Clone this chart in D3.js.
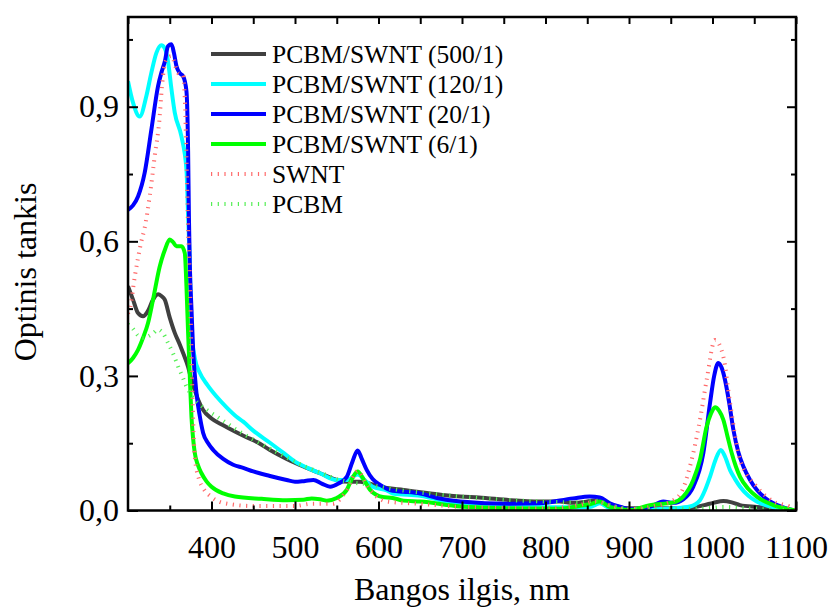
<!DOCTYPE html>
<html>
<head>
<meta charset="utf-8">
<script src="https://cdn.jsdelivr.net/npm/d3@7"></script>
<style>
  body { margin: 0; background: #fff; }
</style>
</head>
<body>
<div id="chart"></div>
<script>
// absorption spectra, [wavelength nm, optical density]
let pcbm_swnt_500 = [[300,0.50],[306,0.47],[312,0.44],[318,0.433],[324,0.445],[330,0.47],[336,0.482],[340,0.478],[344,0.47],[350,0.43],[356,0.396],[362,0.37],[366,0.351],[372,0.32],[376,0.291],[380,0.268],[384,0.247],[390,0.224],[400,0.205],[414,0.19],[428,0.176],[440,0.165],[455,0.152],[470,0.135],[490,0.115],[510,0.098],[530,0.083],[550,0.068],[565,0.064],[578,0.064],[595,0.057],[610,0.05],[630,0.046],[658,0.039],[680,0.034],[698,0.031],[720,0.029],[757,0.023],[793,0.02],[817,0.02],[833,0.017],[850,0.02],[860,0.023],[868,0.022],[880,0.012],[901,0.005],[930,0.005],[953,0.005],[973,0.006],[990,0.012],[1001,0.017],[1013,0.021],[1023,0.018],[1033,0.012],[1053,0.008],[1075,0.004],[1100,0.0]];

let pcbm_swnt_120 = [[300,0.957],[306,0.909],[314,0.878],[322,0.924],[328,0.976],[334,1.02],[340,1.037],[344,1.03],[348,1.0],[352,0.94],[356,0.887],[364,0.834],[370,0.76],[372,0.656],[374,0.55],[376,0.40],[380,0.34],[386,0.307],[395,0.28],[406,0.254],[418,0.23],[430,0.209],[438,0.198],[450,0.178],[470,0.151],[485,0.13],[500,0.109],[515,0.095],[530,0.083],[550,0.068],[562,0.068],[575,0.08],[585,0.065],[593,0.053],[610,0.045],[617,0.038],[650,0.033],[698,0.014],[757,0.01],[817,0.007],[853,0.008],[865,0.016],[877,0.005],[901,0.001],[953,0.005],[973,0.009],[985,0.023],[991,0.045],[997,0.075],[1004,0.115],[1010,0.135],[1015,0.12],[1021,0.09],[1027,0.07],[1033,0.053],[1043,0.033],[1053,0.02],[1073,0.007],[1093,0.001],[1100,0]];

let pcbm_swnt_20 = [[300,0.67],[306,0.68],[312,0.70],[320,0.753],[328,0.849],[336,0.946],[340,0.976],[344,1.0],[348,1.035],[352,1.039],[355,1.02],[358,0.991],[362,0.975],[366,0.968],[370,0.935],[372,0.80],[373,0.65],[374,0.55],[376,0.45],[378,0.358],[382,0.262],[386,0.21],[390,0.173],[396,0.15],[402,0.135],[414,0.115],[426,0.102],[438,0.095],[450,0.087],[470,0.077],[490,0.068],[500,0.064],[512,0.066],[522,0.068],[532,0.06],[542,0.053],[552,0.06],[562,0.075],[569,0.11],[575,0.134],[580,0.115],[586,0.09],[593,0.07],[602,0.057],[617,0.044],[630,0.042],[650,0.038],[670,0.028],[698,0.02],[757,0.015],[793,0.016],[833,0.027],[853,0.031],[865,0.029],[877,0.016],[890,0.008],[901,0.003],[925,0.008],[941,0.02],[953,0.017],[965,0.025],[977,0.053],[989,0.128],[997,0.239],[1002,0.3],[1007,0.329],[1011,0.318],[1015,0.291],[1020,0.24],[1025,0.18],[1031,0.13],[1037,0.098],[1045,0.068],[1053,0.046],[1063,0.028],[1073,0.016],[1085,0.007],[1096,0.001],[1100,0]];

let pcbm_swnt_6 = [[300,0.328],[306,0.34],[312,0.358],[318,0.385],[324,0.418],[330,0.47],[338,0.544],[344,0.58],[350,0.604],[354,0.598],[358,0.589],[364,0.589],[368,0.574],[370,0.5],[372,0.395],[374,0.3],[376,0.209],[378,0.16],[380,0.128],[384,0.1],[388,0.083],[394,0.065],[400,0.053],[414,0.038],[428,0.031],[460,0.026],[490,0.023],[510,0.024],[520,0.027],[530,0.025],[538,0.022],[550,0.028],[562,0.046],[568,0.07],[575,0.087],[582,0.07],[590,0.046],[605,0.03],[617,0.028],[630,0.022],[650,0.02],[698,0.009],[757,0.005],[817,0.004],[840,0.01],[853,0.014],[865,0.02],[877,0.008],[901,0.001],[925,0.012],[953,0.018],[965,0.031],[977,0.068],[985,0.113],[993,0.187],[998,0.215],[1003,0.23],[1008,0.222],[1013,0.202],[1018,0.165],[1023,0.128],[1028,0.098],[1033,0.075],[1043,0.048],[1053,0.031],[1073,0.012],[1097,0.001],[1100,0]];

let swnt = [[300,0.44],[302,0.447],[308,0.52],[316,0.6],[320,0.63],[326,0.7],[332,0.79],[338,0.879],[340,0.93],[344,0.995],[348,1.01],[352,1.013],[360,0.975],[366,0.97],[368,0.92],[370,0.79],[372,0.626],[374,0.52],[376,0.35],[378,0.2],[380,0.12],[385,0.07],[390,0.05],[400,0.03],[416,0.016],[450,0.01],[500,0.01],[520,0.015],[545,0.015],[562,0.045],[575,0.088],[588,0.05],[610,0.02],[650,0.015],[700,0.008],[800,0.005],[840,0.012],[860,0.02],[880,0.01],[900,0.003],[930,0.01],[953,0.023],[965,0.05],[973,0.098],[985,0.202],[993,0.291],[1003,0.38],[1013,0.343],[1021,0.24],[1033,0.113],[1053,0.053],[1073,0.02],[1093,0.008],[1100,0]];

let pcbm = [[300,0.415],[306,0.405],[312,0.39],[318,0.385],[324,0.388],[330,0.395],[336,0.403],[342,0.395],[348,0.373],[354,0.35],[360,0.321],[366,0.295],[370,0.276],[376,0.258],[380,0.247],[388,0.233],[396,0.222],[406,0.21],[418,0.195],[430,0.18],[450,0.158],[470,0.138],[490,0.118],[510,0.1],[530,0.085],[550,0.07],[570,0.062],[590,0.058],[610,0.05],[650,0.04],[700,0.031],[750,0.024],[800,0.02],[840,0.018],[860,0.022],[880,0.01],[900,0.004],[950,0.004],[980,0.004],[1000,0.006],[1013,0.008],[1040,0.005],[1100,0]];

let series_names = ["PCBM/SWNT (500/1)", "PCBM/SWNT (120/1)", "PCBM/SWNT (20/1)", "PCBM/SWNT (6/1)", "SWNT", "PCBM"];
let series_data = [pcbm_swnt_500, pcbm_swnt_120, pcbm_swnt_20, pcbm_swnt_6, swnt, pcbm];
let series_colors = ["#404040", "#00ffff", "#0000ff", "#00ff00", "#ff6a6a", "#55ee55"];
let series_dotted = [false, false, false, false, true, true];

let x_ticks = [400, 500, 600, 700, 800, 900, 1000, 1100];
let y_ticks = [0, 0.3, 0.6, 0.9];

let chart_width = 834;
let chart_height = 607;
let plot_left = 128, plot_right = 796, plot_top = 17, plot_bottom = 510.5;
let serif = "Liberation Serif";

let svg = d3.select("#chart")
  .append("svg")
  .attr("width", chart_width)
  .attr("height", chart_height);

let x_scale = d3.scaleLinear().domain([300, 1100]).range([plot_left, plot_right]);
let y_scale = d3.scaleLinear().domain([0, 1.1]).range([plot_bottom, plot_top]);

svg.append("clipPath").attr("id", "plotclip")
  .append("rect")
  .attr("x", plot_left).attr("y", plot_top)
  .attr("width", plot_right - plot_left).attr("height", plot_bottom - plot_top);

let line = d3.line()
  .x(d => x_scale(d[0]))
  .y(d => y_scale(d[1]))
  .curve(d3.curveMonotoneX);

let plot = svg.append("g").attr("clip-path", "url(#plotclip)");

series_data.forEach(function (s, i) {
  plot.append("path")
    .datum(s)
    .attr("d", line)
    .attr("fill", "none")
    .attr("stroke", series_colors[i])
    .attr("stroke-width", 4)
    .attr("stroke-linejoin", "round")
    .attr("stroke-dasharray", series_dotted[i] ? "1.2,5.5" : null);
});

// axes: ticks point inward on all four sides
let minor_x = d3.range(300, 1101, 50);
let minor_y = [0.15, 0.45, 0.75, 1.05];

svg.append("g")
  .attr("transform", `translate(0,${plot_bottom})`)
  .call(d3.axisBottom(x_scale).tickValues(x_ticks).tickSize(-9).tickPadding(25).tickFormat(d3.format("d")))
  .call(g => g.select(".domain").remove());
svg.append("g")
  .attr("transform", `translate(0,${plot_bottom})`)
  .call(d3.axisBottom(x_scale).tickValues(minor_x.filter(v => v % 100 != 0)).tickSize(-5).tickFormat(""))
  .call(g => g.select(".domain").remove());
svg.append("g")
  .attr("transform", `translate(0,${plot_top})`)
  .call(d3.axisTop(x_scale).tickValues(minor_x).tickSize(-7).tickFormat(""))
  .call(g => g.select(".domain").remove());

svg.append("g")
  .attr("transform", `translate(${plot_left},0)`)
  .call(d3.axisLeft(y_scale).tickValues(y_ticks).tickSize(-10).tickPadding(9)
    .tickFormat(d => d3.format(".1f")(d).replace(".", ",")))
  .call(g => g.select(".domain").remove());
svg.append("g")
  .attr("transform", `translate(${plot_left},0)`)
  .call(d3.axisLeft(y_scale).tickValues(minor_y).tickSize(-5).tickFormat(""))
  .call(g => g.select(".domain").remove());
svg.append("g")
  .attr("transform", `translate(${plot_right},0)`)
  .call(d3.axisRight(y_scale).tickValues(y_ticks).tickSize(-9).tickFormat(""))
  .call(g => g.select(".domain").remove());
svg.append("g")
  .attr("transform", `translate(${plot_right},0)`)
  .call(d3.axisRight(y_scale).tickValues(minor_y).tickSize(-5).tickFormat(""))
  .call(g => g.select(".domain").remove());

svg.selectAll(".tick line").attr("stroke", "#000").attr("stroke-width", 2);
svg.selectAll(".tick text")
  .style("font-family", serif)
  .style("font-size", "32px")
  .attr("fill", "#000");

// frame
svg.append("rect")
  .attr("x", plot_left).attr("y", plot_top)
  .attr("width", plot_right - plot_left).attr("height", plot_bottom - plot_top)
  .attr("fill", "none").attr("stroke", "#000").attr("stroke-width", 2.5);

// axis titles
svg.append("text")
  .attr("x", (plot_left + plot_right) / 2)
  .attr("y", 600)
  .attr("text-anchor", "middle")
  .style("font-family", serif)
  .style("font-size", "32px")
  .text("Bangos ilgis, nm");

svg.append("text")
  .attr("transform", "translate(36,272) rotate(-90)")
  .attr("text-anchor", "middle")
  .style("font-family", serif)
  .style("font-size", "32px")
  .text("Optinis tankis");

// legend
let legend = svg.append("g");
series_names.forEach(function (name, i) {
  let yy = 54 + i * 30;
  legend.append("line")
    .attr("x1", 211).attr("x2", 266)
    .attr("y1", yy).attr("y2", yy)
    .attr("stroke", series_colors[i])
    .attr("stroke-width", 4)
    .attr("stroke-dasharray", series_dotted[i] ? "1.2,5.5" : null);
  legend.append("text")
    .attr("x", 272)
    .attr("y", yy + 8.5)
    .style("font-family", serif)
    .style("font-size", "25.5px")
    .text(name);
});
</script>
</body>
</html>
